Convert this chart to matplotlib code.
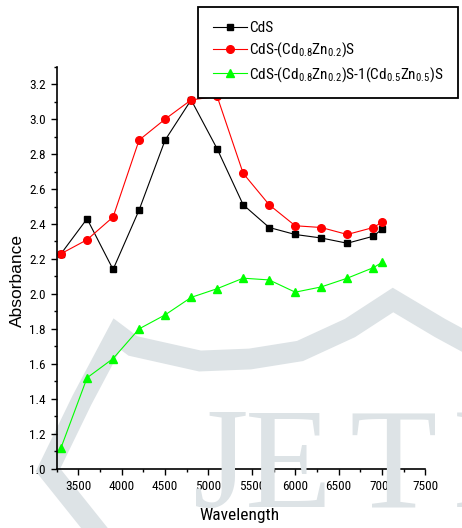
import matplotlib
matplotlib.use("Agg")
import matplotlib.pyplot as plt
from matplotlib import font_manager
from matplotlib.lines import Line2D
from matplotlib.ticker import MultipleLocator, FormatStrFormatter


def pick_narrow():
    wanted = ["Liberation Sans Narrow", "Arial Narrow", "Roboto Condensed",
              "Open Sans Condensed", "DejaVu Sans Condensed", "Noto Sans Condensed"]
    names = {f.name for f in font_manager.fontManager.ttflist}
    for w in wanted:
        if w in names:
            return w, None
    for f in font_manager.fontManager.ttflist:
        if "narrow" in f.name.lower() or "condensed" in f.name.lower():
            return f.name, None
    for f in font_manager.fontManager.ttflist:
        if str(f.stretch) in ("condensed", "semi-condensed", "extra-condensed") and "sans" in f.name.lower():
            return f.name, f.stretch
    return "Liberation Sans", None


narrow, stretch = pick_narrow()
plt.rcParams["font.family"] = [narrow, "DejaVu Sans"]
if stretch:
    plt.rcParams["font.stretch"] = stretch
plt.rcParams["mathtext.fontset"] = "custom"
plt.rcParams["mathtext.rm"] = narrow
plt.rcParams["mathtext.it"] = narrow

wavelength = [3300, 3600, 3900, 4200, 4500, 4800, 5100, 5400, 5700, 6000, 6300, 6600, 6900, 7000]
cds = [2.23, 2.43, 2.14, 2.48, 2.88, 3.11, 2.83, 2.51, 2.38, 2.34, 2.32, 2.29, 2.33, 2.37]
cds_cdzn = [2.23, 2.31, 2.44, 2.88, 3.00, 3.11, 3.13, 2.69, 2.51, 2.39, 2.38, 2.34, 2.38, 2.41]
cds_cdzn_cdzn = [1.12, 1.52, 1.63, 1.80, 1.88, 1.98, 2.03, 2.09, 2.08, 2.01, 2.04, 2.09, 2.15, 2.18]

names = ["CdS",
         r"CdS-(Cd$_{0.8}$Zn$_{0.2}$)S",
         r"CdS-(Cd$_{0.8}$Zn$_{0.2}$)S-1(Cd$_{0.5}$Zn$_{0.5}$)S"]

W, H = 462, 528
fig = plt.figure(figsize=(W / 100, H / 100), dpi=100)

# faint watermark behind the plot
wm = "#dde3e6"
arc_x = [100, 48, 82, 117, 133, 200, 250, 300, 350, 393, 440, 475]
arc_y = [535, 470, 400, 334, 346, 361, 359, 351, 328, 300, 328, 347]
fig.add_artist(Line2D([x / W for x in arc_x], [1 - y / H for y in arc_y],
                      color=wm, lw=15, solid_joinstyle="miter", zorder=0))
for ch, x in zip("JETI", [193, 245, 349, 452]):
    fig.text(x / W, 1 - 507 / H, ch, fontsize=103, family="Liberation Serif", color=wm,
             ha="left", va="baseline", zorder=0)

ax = fig.add_axes([56.7 / W, 1 - 468.7 / H, (425.3 - 56.7) / W, (468.7 - 66.7) / H])
ax.patch.set_alpha(0)

ax.plot(wavelength, cds, "s-", color="black", lw=0.8, ms=5, label=names[0])
ax.plot(wavelength, cds_cdzn, "o-", color="red", lw=0.8, ms=5.5, label=names[1])
ax.plot(wavelength, cds_cdzn_cdzn, "^-", color="#00ff00", lw=0.8, ms=6, label=names[2])

ax.set_xlim(3250, 7500)
ax.set_ylim(1.0, 3.3)
ax.set_xticks(range(3500, 7501, 500))
ax.xaxis.set_minor_locator(MultipleLocator(250))
ax.yaxis.set_major_locator(MultipleLocator(0.2))
ax.yaxis.set_minor_locator(MultipleLocator(0.1))
ax.yaxis.set_major_formatter(FormatStrFormatter("%.1f"))
ax.tick_params(which="major", direction="out", length=4, width=1, labelsize=9.5, pad=4)
ax.tick_params(which="minor", direction="out", length=2.5, width=1)
ax.spines["top"].set_visible(False)
ax.spines["right"].set_visible(False)
ax.spines["left"].set_linewidth(1.2)
ax.spines["bottom"].set_linewidth(1.2)

ax.set_xlabel("Wavelength", fontsize=12.5)
ax.set_ylabel("Absorbance", fontsize=12.5, family="Liberation Sans")
ax.xaxis.set_label_coords(0.497, -0.098)
ax.yaxis.set_label_coords(-0.085, 0.469)

leg = fig.legend(loc="upper left", bbox_to_anchor=(198 / W, 1 - 6.7 / H), fontsize=11,
                 fancybox=False, edgecolor="black", framealpha=1, borderaxespad=0,
                 handlelength=2.25, handletextpad=0.15, labelspacing=0.35, borderpad=0.95)
leg.get_frame().set_linewidth(1.3)

fig.savefig("out.png", dpi=100)
